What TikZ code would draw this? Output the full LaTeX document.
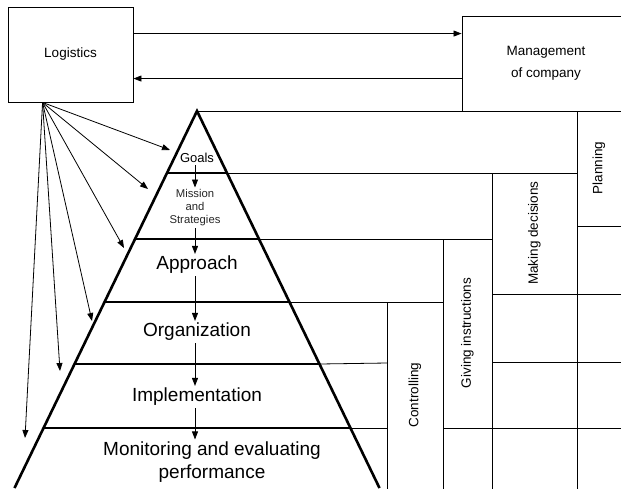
\documentclass[tikz,border=0pt]{standalone}
\usepackage{fontspec}
\setmainfont{Liberation Sans}
\usetikzlibrary{arrows.meta,calc}

\begin{document}
\begin{tikzpicture}[
  x=1pt, y=-1pt,
  box/.style={draw, rectangle, line width=0.9pt, inner sep=0pt, align=center, font=\fontsize{13.5}{22}\selectfont},
  level_text/.style={inner sep=2pt, align=center, font=\fontsize{19}{23}\selectfont},
  small_text/.style={inner sep=2pt, align=center, font=\fontsize{11.3}{13}\selectfont},
  side_text/.style={rotate=90, inner sep=0pt, font=\fontsize{13.5}{16}\selectfont},
  thin_line/.style={line width=0.8pt},
  thick_line/.style={line width=2.6pt},
  arr/.style={-{Triangle[length=8pt,width=6pt]}, line width=0.8pt},
]
\useasboundingbox (0,0) rectangle (621,488);

% the two boxes on top
\draw (70.5,54.5) node (logistics) [box, minimum width=125pt, minimum height=95pt] {Logistics};
\draw (546,63.5) node (management) [box, minimum width=168pt, minimum height=95pt] {Management\\of company};
\draw[arr] ($(logistics.north east)+(0,27)$) -- ($(management.north west)+(0,18)$);
\draw[arr] ($(management.north west)+(0,63)$) -- ($(logistics.north east)+(0,72)$);

% pyramid
\coordinate (apex) at (197,111);
\coordinate (l1) at (167,173);   \coordinate (r1) at (227,173);
\coordinate (l2) at (135,239);   \coordinate (r2) at (259,239);
\coordinate (l3) at (104.6,302); \coordinate (r3) at (289.4,302);
\coordinate (l4) at (74.5,364);  \coordinate (r4) at (319.5,364);
\coordinate (l5) at (43.6,428);  \coordinate (r5) at (350.4,428);
\coordinate (l6) at (14.5,488);  \coordinate (r6) at (379.5,488);

% grid on the right
\draw[thin_line] (apex) -- (624,111);
\draw[thin_line] (r1) -- (577,173);
\draw[thin_line] (r2) -- (492,239);
\draw[thin_line] (r3) -- (443,302);
\draw[thin_line] (r4) -- (387,363);
\draw[thin_line] (r5) -- (387,428) (443,428) -- (624,428);
\draw[thin_line] (577,226) -- (624,226) (492,294) -- (624,294) (492,362) -- (624,362);
\draw[thin_line] (577,111) -- (577,490) (492,173) -- (492,490) (443,239) -- (443,490) (387,302) -- (387,490);

\draw[thick_line] (l6) -- (apex) -- (r6);
\draw[thick_line] (l1) -- (r1) (l2) -- (r2) (l3) -- (r3) (l4) -- (r4) (l5) -- (r5);

\node (planning) [side_text] at (599,168) {Planning};
\node (decisions) [side_text] at (534.5,233) {Making decisions};
\node (instructions) [side_text] at (467.5,333) {Giving instructions};
\node (controlling) [side_text] at (415,395) {Controlling};

% levels
\node (goals) [inner sep=2pt, font=\fontsize{13}{15}\selectfont] at (197,158) {Goals};
\node (mission) [small_text, text=black!85] at (195,208) {Mission\\and\\Strategies};
\node (approach) [level_text] at (197,265) {Approach};
\node (organization) [level_text] at (197,332) {Organization};
\node (implementation) [level_text] at (197,397) {Implementation};
\node (monitoring) [level_text] at (212,462) {Monitoring and evaluating\\performance};

\draw[arr] (mission.north |- goals.south) -- (mission.north);
\draw[arr] (mission.south) -- (mission.south |- approach.north);
\draw[arr] (mission.south |- approach.south) -- (mission.south |- organization.north);
\draw[arr] (mission.south |- organization.south) -- (mission.south |- implementation.north);
\draw[arr] (mission.south |- implementation.south) -- (mission.south |- monitoring.north);

% logistics fan
\coordinate (fan) at ($(logistics.south west)+(35,0)$);
\coordinate (to_goals) at (170,150);
\coordinate (to_mission) at (148,189);
\coordinate (to_approach) at (124,248);
\coordinate (to_organization) at (92,321);
\coordinate (to_implementation) at (60,371);
\coordinate (to_monitoring) at (25,438);
\draw[arr] (fan) -- (to_goals);
\draw[arr] (fan) -- (to_mission);
\draw[arr] (fan) -- (to_approach);
\draw[arr] (fan) -- (to_organization);
\draw[arr] (fan) -- (to_implementation);
\draw[arr] (fan) -- (to_monitoring);
\end{tikzpicture}
\end{document}
